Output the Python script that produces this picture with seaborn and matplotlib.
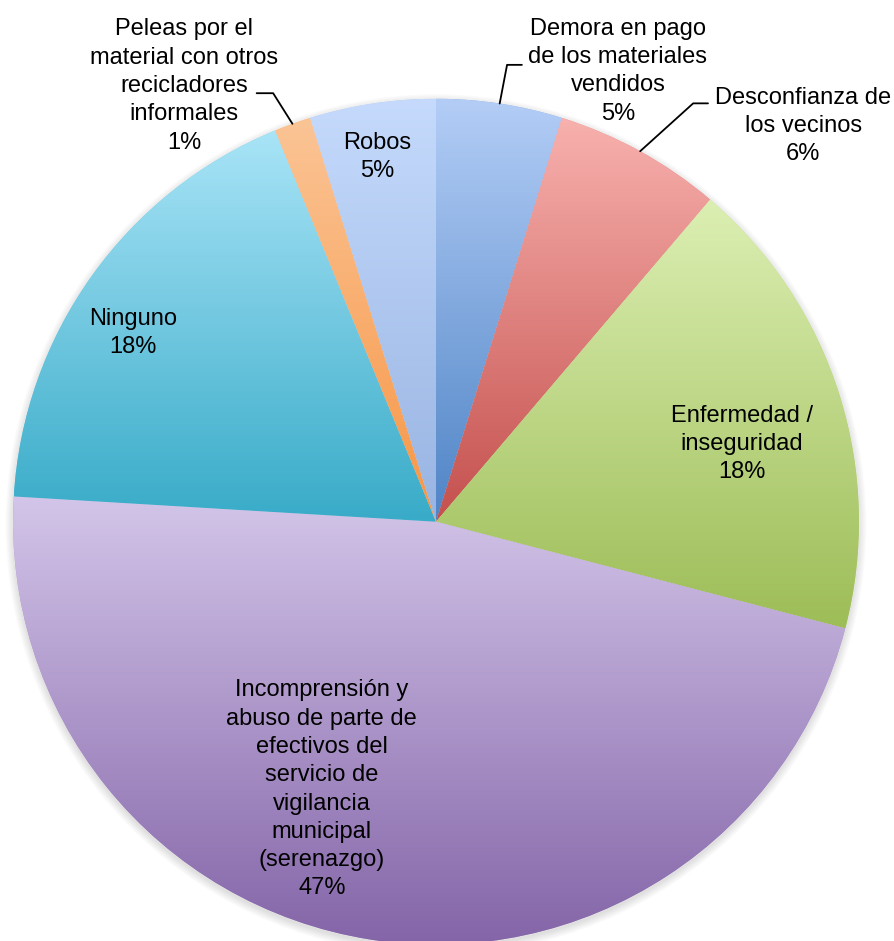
import numpy as np
import matplotlib
matplotlib.use("Agg")
import matplotlib.pyplot as plt
from matplotlib.patches import Circle
import seaborn as sns

# data (slice shares, clockwise from 12 o'clock)
categories = [
    "Demora en pago\nde los materiales\nvendidos",
    "Desconfianza de\nlos vecinos",
    "Enfermedad /\ninseguridad",
    "Incomprensión y\nabuso de parte de\nefectivos del\nservicio de\nvigilancia\nmunicipal\n(serenazgo)",
    "Ninguno",
    "Peleas por el\nmaterial con otros\nrecicladores\ninformales",
    "Robos",
]
values = [4.8, 6.4, 17.8, 46.8, 17.8, 1.4, 4.8]

# gradient colours (top -> bottom of each slice)
top_colors = ["#b3cdf6", "#f8b1ae", "#dcefb3", "#d3c5e9", "#a9e4f7", "#fbc495", "#c5dafc"]
bottom_colors = ["#4f84c6", "#c4504d", "#9dbd57", "#8465a8", "#38abc8", "#f79646", "#98b4e2"]

# label centres in pie units (radius = 1)
label_pos = [(0.430, 1.065), (0.868, 0.935), (0.723, 0.184), (-0.270, -0.633),
             (-0.716, 0.446), (-0.596, 1.030), (-0.139, 0.862)]
# leader elbows for the labels placed outside the pie
leaders = {
    0: [(0.168, 1.080), (0.203, 1.080)],
    1: [(0.608, 0.989), (0.643, 0.989)],
    5: [(-0.385, 1.013), (-0.424, 1.013)],
}

sns.set_theme(style="white")
plt.rcParams["font.family"] = ["Liberation Sans", "DejaVu Sans"]

fig = plt.figure(figsize=(8.94, 9.41), dpi=100)
ax = fig.add_axes([0, 0, 1, 1])

# soft shadow under the pie
for i in range(8):
    ax.add_patch(Circle((0.0, -0.007), 1.0 + 0.0025 * i, facecolor="#808080",
                        edgecolor="none", alpha=0.03, zorder=0))

wedges, _ = ax.pie(values, startangle=90, counterclock=False, radius=1,
                   colors=bottom_colors,
                   wedgeprops=dict(linewidth=0.6, edgecolor=(1, 1, 1, 0.5)))

grad = np.linspace(0, 1, 256).reshape(-1, 1)
for w, c_top, c_bot in zip(wedges, top_colors, bottom_colors):
    w.set_zorder(1)
    bb = w.get_path().get_extents()
    cmap = sns.blend_palette([c_top, c_bot], n_colors=256, as_cmap=True)
    im = ax.imshow(grad, cmap=cmap, extent=[bb.x0, bb.x1, bb.y0, bb.y1],
                   origin="upper", aspect="auto", zorder=2, interpolation="bilinear")
    im.set_clip_path(w)

total = sum(values)
for i, (name, v) in enumerate(zip(categories, values)):
    pct = int(round(v / total * 100))
    x, y = label_pos[i]
    ax.text(x, y, f"{name}\n{pct}%", ha="center", va="center", fontsize=17,
            color="black", linespacing=1.37, zorder=5)
    if i in leaders:
        w = wedges[i]
        mid = np.deg2rad((w.theta1 + w.theta2) / 2)
        pts = [(np.cos(mid), np.sin(mid))] + leaders[i]
        xs, ys = zip(*pts)
        ax.plot(xs, ys, color="black", lw=1.3, zorder=5)

ax.set_xlim(-436 / 423, 458 / 423)
ax.set_ylim(-419.3 / 423, 521.7 / 423)
ax.set_aspect("equal", adjustable="box")
ax.axis("off")

fig.savefig("out.png", dpi=100)
